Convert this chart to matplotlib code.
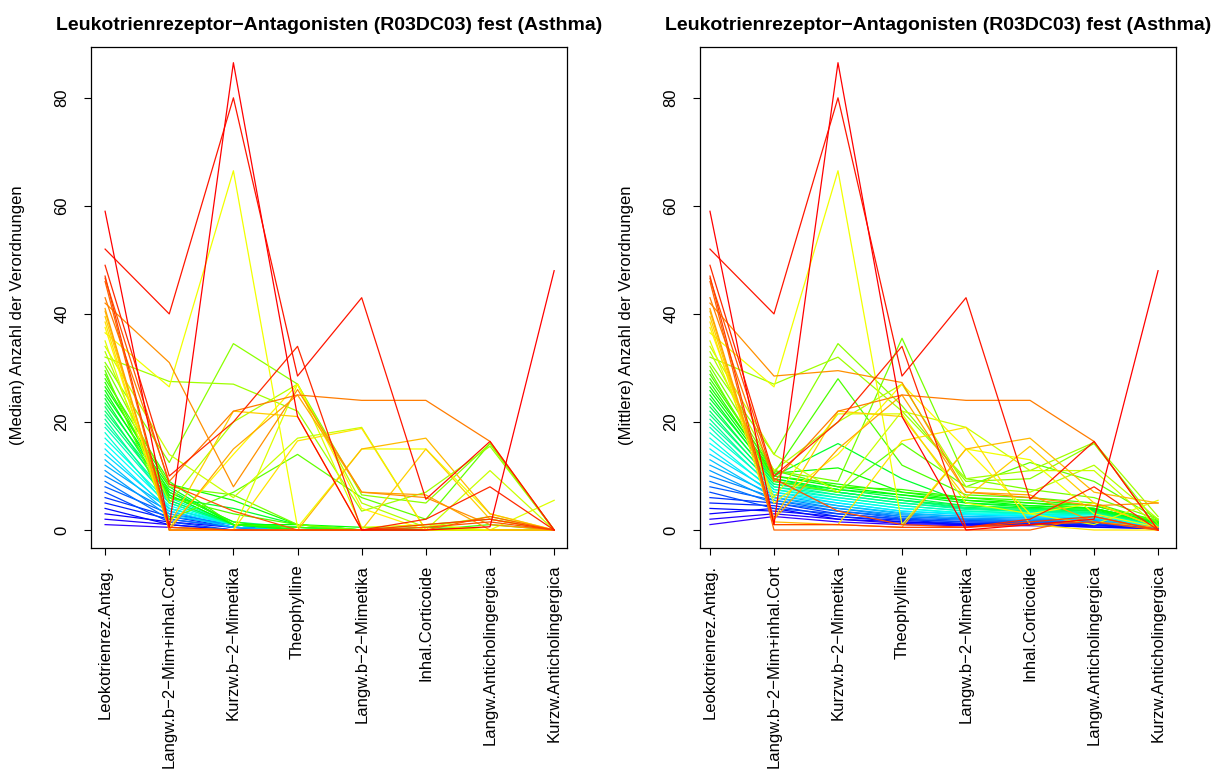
import numpy as np
import matplotlib
matplotlib.use("Agg")
import matplotlib.pyplot as plt
from matplotlib.colors import hsv_to_rgb

plt.rcParams["font.family"] = ["Liberation Sans", "DejaVu Sans"]

MINUS = "\u2212"

categories = [
    "Leokotrienrez.Antag.",
    f"Langw.b{MINUS}2{MINUS}Mim+inhal.Cort",
    f"Kurzw.b{MINUS}2{MINUS}Mimetika",
    "Theophylline",
    f"Langw.b{MINUS}2{MINUS}Mimetika",
    "Inhal.Corticoide",
    "Langw.Anticholingergica",
    "Kurzw.Anticholingergica",
]

title = f"Leukotrienrezeptor{MINUS}Antagonisten (R03DC03) fest (Asthma)"

# median prescriptions per patient group, one row per group (sorted by first column)
median_rows = [
    [1, 0.5, 0, 0, 0, 0, 0, 0],
    [2, 1, 0, 0, 0, 0, 0, 0],
    [3, 1.5, 0.5, 0, 0, 0, 0, 0],
    [4, 1, 0, 0, 0, 0, 0, 0],
    [5, 2, 0.5, 0, 0, 0, 0, 0],
    [6, 2.5, 0.5, 0, 0, 0, 0, 0],
    [7, 1.5, 0, 0, 0, 0, 0, 0],
    [8, 3, 1, 0, 0, 0, 0, 0],
    [9, 2, 0.5, 0, 0, 0, 0, 0],
    [10, 3.5, 0.5, 0, 0, 0, 0, 0],
    [11, 2.5, 1, 0, 0, 0, 0, 0],
    [12, 4, 1, 0, 0, 0, 0, 0],
    [13, 3, 0.5, 0, 0, 0, 0, 0],
    [14, 4, 1, 0, 0, 0, 0, 0],
    [15, 3.5, 1, 0, 0, 0, 0, 0],
    [16, 4.5, 1, 0, 0, 0, 0, 0],
    [17, 5, 1, 0, 0, 0, 0, 0],
    [18, 4, 1, 0, 0, 0, 0, 0],
    [19, 5.5, 1, 0, 0, 0, 0, 0],
    [19.7, 6, 1, 0.5, 0, 0, 0, 0],
    [20.5, 5, 1, 0, 0, 0, 0, 0],
    [21.3, 6.5, 1, 0, 0, 0, 0, 0],
    [22, 7, 1.5, 0.5, 0, 0, 0, 0],
    [22.8, 5.5, 1, 0, 0, 0, 0, 0],
    [23.5, 7.5, 1, 0.5, 0, 0, 0, 0],
    [24.3, 6, 4, 1, 0, 0, 0, 0],
    [25, 8, 1, 0, 0, 0, 0, 0],
    [25.8, 6.5, 1, 1, 0.5, 0, 0, 0],
    [26.5, 8.5, 5.5, 1, 0, 0, 0, 0],
    [27.3, 7, 1.5, 0, 0, 0.5, 0, 0],
    [28, 9, 1, 0.5, 0, 0, 1, 0],
    [28.8, 6, 3, 1, 0, 0, 0, 0],
    [29.5, 2, 7, 14, 6, 2, 16, 0],
    [30.3, 8, 6.5, 1, 0, 1, 2, 0],
    [31, 12.5, 34.5, 27, 6.5, 5, 16, 0],
    [32, 27.5, 27, 22, 3.5, 7, 15.5, 0],
    [33, 5, 20, 27, 5, 0.5, 2.5, 0],
    [34, 14, 6, 17, 19, 0, 11, 0],
    [35, 0.5, 0, 27, 0.5, 1, 0, 5.5],
    [36.5, 26.5, 66.5, 0.5, 15, 15, 3, 0],
    [37.5, 0.5, 14, 27, 4, 0, 0, 0],
    [38.5, 0, 0, 16.5, 18.8, 0, 0, 0],
    [39.5, 1, 22, 21, 0, 15, 2, 0],
    [40.5, 0, 0, 0, 15, 17, 3, 0],
    [41, 0, 15, 25, 7, 6.5, 0, 0],
    [42, 31, 8, 26, 7, 6, 1, 0],
    [43, 9, 22, 25, 24, 24, 16.4, 0],
    [46, 0, 0, 0, 0, 0, 2.5, 0],
    [46.6, 8.5, 3.5, 0, 0, 0.5, 1.5, 0],
    [47, 0.5, 0, 0, 0, 1, 2, 0],
    [49, 10, 20, 34, 0, 2, 8, 0],
    [52, 40, 80, 28.5, 43, 5.7, 16.4, 0],
    [59, 0.5, 86.5, 21, 0, 0, 0.6, 48],
]

# mean prescriptions per patient group, same row order
mean_rows = [
    [1, 2.5, 1.5, 1, 0.8, 0.8, 0.6, 0.2],
    [2, 3, 2, 1.2, 1, 0.9, 0.8, 0.3],
    [3, 4, 2, 1.5, 1, 1, 1, 0.2],
    [4, 3.5, 2.5, 1.5, 1.2, 1, 0.5, 0.3],
    [5, 4.5, 2.5, 1.8, 1.2, 1.2, 1, 0.3],
    [6, 5, 3, 2, 1.5, 1.3, 1.2, 0.4],
    [7, 4, 3, 2, 1.5, 1.5, 1.3, 0.3],
    [8, 5.5, 3.5, 2.2, 1.8, 1.5, 1.5, 0.4],
    [9, 5, 3.5, 2.5, 2, 1.6, 1.5, 0.5],
    [10, 6, 4, 2.5, 2, 1.8, 1.6, 0.4],
    [11, 5.5, 4, 2.8, 2.2, 2, 1.8, 0.5],
    [12, 6.5, 4.5, 3, 2.5, 2.2, 2, 0.5],
    [13, 6, 4.5, 3.2, 2.5, 2.3, 2, 0.6],
    [14, 7, 5, 3.5, 2.8, 2.5, 2.2, 0.6],
    [15, 6.5, 5, 3.5, 3, 2.6, 2.3, 0.7],
    [16, 7.5, 5.5, 4, 3, 2.8, 2.5, 0.7],
    [17, 7, 5.5, 4, 3.2, 3, 2.5, 0.8],
    [18, 8, 6, 4.5, 3.5, 3, 2.8, 0.8],
    [19, 7.5, 6, 4.5, 3.5, 3.2, 3, 1],
    [19.7, 8.5, 6.5, 5, 3.8, 3.4, 3, 0.9],
    [20.5, 8, 6.5, 5, 4, 3.5, 3.2, 1],
    [21.3, 9, 7, 5.5, 4, 3.6, 3.3, 1.1],
    [22, 8.5, 7, 5.5, 4.2, 3.8, 3.5, 1.2],
    [22.8, 9.5, 7, 5.5, 4.5, 4, 3.5, 1],
    [23.5, 9, 7.5, 6, 4.5, 4, 3.6, 1.3],
    [24.3, 10, 16, 9.5, 5, 4.5, 4, 1.5],
    [25, 9.5, 7.5, 6.5, 5, 4.2, 3.8, 1.2],
    [25.8, 10, 8, 6.5, 5.5, 4.5, 4, 1.4],
    [26.5, 10.5, 11.5, 7, 5.5, 5, 4, 1.5],
    [27.3, 10, 8.5, 7, 6, 5, 4.5, 1.6],
    [28, 11, 8, 7.5, 6, 5.5, 4.5, 1.8],
    [28.8, 10.5, 28, 12, 6.5, 6, 5, 1.5],
    [29.5, 9, 7, 16, 8, 12.5, 9, 2],
    [30.3, 11, 9, 35.5, 9.5, 7.5, 6, 2],
    [31, 14, 34.5, 23, 9, 9.5, 16, 1],
    [32, 27, 32, 22, 9.5, 11, 16.2, 2.5],
    [33, 11, 20, 27, 8, 7, 12, 2],
    [34, 14, 7, 22, 19, 11, 11, 0.5],
    [35, 6, 21.5, 21.5, 5, 3, 1, 5.5],
    [36.5, 26.5, 66.5, 1, 15, 13, 3, 0.5],
    [37.5, 5, 14, 27, 15, 3, 5, 0.5],
    [38.5, 1, 1, 16.5, 19, 1, 0, 0],
    [39.5, 2, 22, 21, 6, 15.5, 5, 0.5],
    [40.5, 1.5, 1, 0.5, 15, 17, 7, 5],
    [41, 2, 15, 25, 7, 6.5, 1.5, 0.5],
    [42, 28.5, 29.5, 27.3, 7, 6, 4.5, 5],
    [43, 9, 22, 25, 24, 24, 16.4, 0],
    [46, 0, 0, 0, 0, 0, 2.5, 0],
    [46.6, 9.5, 3.5, 1, 0.5, 1, 1.5, 0],
    [47, 1, 1, 0.5, 0.5, 1.5, 2.5, 0],
    [49, 10, 20, 34, 0.5, 2, 8, 0],
    [52, 40, 80, 28.5, 43, 5.7, 16.4, 0],
    [59, 1, 86.5, 21, 0, 1, 2, 48],
]

median = np.array(median_rows, dtype=float)
mean = np.array(mean_rows, dtype=float)

# rainbow from blue-violet (lowest group) to red (highest group)
n_groups = len(median_rows)
hues = np.linspace(0.7, 0.0, n_groups)
colors = [hsv_to_rgb((h, 1.0, 1.0)) for h in hues]


def draw_panel(ax, data, ylabel, xlim):
    x = np.arange(1, len(categories) + 1)
    for row, col in zip(data, colors):
        ax.plot(x, row, color=col, linewidth=0.9)
    ax.set_xlim(*xlim)
    ax.set_ylim(-3.33, 89.4)
    ax.set_xticks(x)
    ax.set_xticklabels(categories, rotation=90, fontsize=12)
    ax.set_yticks([0, 20, 40, 60, 80])
    ax.set_yticklabels(["0", "20", "40", "60", "80"], rotation=90,
                       va="center", fontsize=12)
    ax.tick_params(direction="out", length=5, width=0.8)
    ax.tick_params(axis="x", pad=7)
    ax.tick_params(axis="y", pad=10.5)
    ax.set_ylabel(ylabel, fontsize=12, labelpad=21)
    ax.yaxis.label.set_y(0.465)
    ax.set_title(title, fontsize=14, fontweight="bold", pad=12)
    for sp in ax.spines.values():
        sp.set_linewidth(0.9)
        sp.set_color("black")


fig = plt.figure(figsize=(12.18, 7.76), dpi=100)
ax1 = fig.add_axes([0.0747, 0.2938, 0.3908, 0.6456])
ax2 = fig.add_axes([0.5747, 0.2938, 0.3908, 0.6456])

draw_panel(ax1, median, "(Median) Anzahl der Verordnungen", (0.78, 8.2))
draw_panel(ax2, mean, "(Mittlere) Anzahl der Verordnungen", (0.844, 8.28))

fig.savefig("out.png", dpi=100)
